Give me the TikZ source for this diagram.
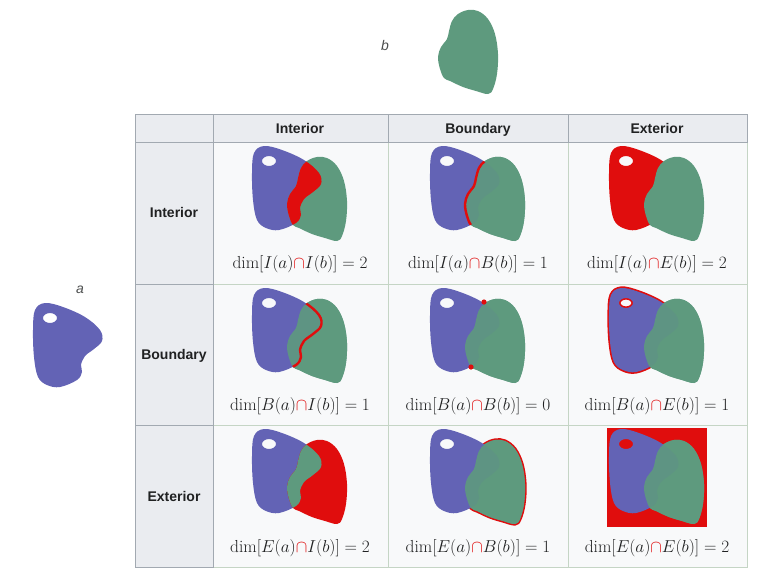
\documentclass[tikz,border=0pt]{standalone}
\usepackage{amsmath}
\usepackage{fontspec}
\usepackage{tikz}
\usetikzlibrary{positioning}
\newfontfamily\headfont{Liberation Sans}
\definecolor{areaA}{HTML}{6363B5}
\definecolor{areaB}{HTML}{5E9A7E}
\definecolor{hilite}{HTML}{E00D0D}
\definecolor{headbg}{HTML}{EAECF0}
\definecolor{cellbg}{HTML}{F8F9FA}
\definecolor{headline}{HTML}{A2A9B1}
\definecolor{cellline}{HTML}{C5D5C5}
\definecolor{ink}{HTML}{202122}
\tikzset{
  head/.style={font=\headfont\fontsize{14}{16}\selectfont\bfseries, text=ink, anchor=base},
  formula/.style={font=\fontsize{17.4}{20}\selectfont, anchor=base, text=ink},
  setname/.style={font=\headfont\fontsize{14}{16}\selectfont\itshape, text=ink!80},
  fillA/.style={fill=areaA, even odd rule},
  fillB/.style={fill=areaB, fill opacity=0.9},
  edgeline/.style={draw=hilite, line width=2.4pt},
  hcell/.style={draw=headline, line width=1pt},
  dcell/.style={draw=cellline, fill=cellbg, line width=1pt}
}
% outlines, relative to (cell centre, cell top)
\newcommand{\pathA}{plot[smooth cycle, tension=0.6] coordinates {(-36,4) (-18,8) (4,18) (19,31) (21,42) (13,50) (4,57) (0,66) (1,73) (-4,81) (-21,88) (-34,86) (-43,78) (-47,58) (-48,31) (-46,11)} (-31,19) ellipse [x radius=7pt, y radius=5pt]}
\newcommand{\pathB}{plot[smooth cycle, tension=0.6] coordinates {(7,19) (17,15) (27,16) (37,24) (44,39) (47,59) (46,79) (42,94) (37,99) (25,96) (12,92) (-1,86) (-7,83) (-11,74) (-13,62) (-10,52) (-4,44) (-2,36) (1,26)}}
% a under b, b slightly see-through where they overlap
\newcommand{\pairAB}{\fill[areaB] \pathB; \fill[fillA] \pathA; \fill[fillB] \pathB;}
\newcommand{\dimlabel}[3]{$\dim[#1(a){\color{hilite}\cap}#2(b)] = #3$}

\begin{document}
\begin{tikzpicture}[x=1pt,y=-1pt]
\useasboundingbox (0,0) rectangle (757,576);

% table
\foreach \x/\X in {213/388,388/568,568/747}
  \foreach \y/\Y in {142/284,284/425,425/567}
    \draw[dcell] (\x,\y) rectangle (\X,\Y);
\fill[headbg] (135,114) rectangle (747,142);
\fill[headbg] (135,142) rectangle (213,567);
\foreach \x/\X in {135/213,213/388,388/568,568/747}
  \draw[hcell] (\x,114) rectangle (\X,142);
\foreach \y/\Y in {142/284,284/425,425/567}
  \draw[hcell] (135,\y) rectangle (213,\Y);

\node[head] (cI) at (300,133) {Interior};
\node[head] (cB) at (478,133) {Boundary};
\node[head] (cE) at (657,133) {Exterior};
\node[head] (rI) at (174,217) {Interior};
\node[head] (rB) at (174,359) {Boundary};
\node[head] (rE) at (174,501) {Exterior};

% the two sets on their own
\begin{scope}[shift={(81,299)}]
  \fill[fillA] \pathA;
\end{scope}
\node[setname] (la) at (80,290) {a};
\begin{scope}[shift={(451,-5)}]
  \fill[areaB] \pathB;
\end{scope}
\node[setname] (lb) at (385,45) {b};

% row: interior of a
\begin{scope}[shift={(300,142)}]
  \fill[fillA] \pathA;
  \fill[areaB] \pathB;
  \begin{scope}
    \clip \pathA;
    \fill[hilite] \pathB;
  \end{scope}
\end{scope}
\begin{scope}[shift={(478,142)}]
  \pairAB
  \begin{scope}
    \clip \pathA;
    \draw[edgeline] \pathB;
  \end{scope}
\end{scope}
\begin{scope}[shift={(657,142)}]
  \fill[hilite, even odd rule] \pathA;
  \fill[areaB] \pathB;
\end{scope}

% row: boundary of a
\begin{scope}[shift={(300,284)}]
  \pairAB
  \begin{scope}
    \clip \pathB;
    \draw[edgeline] \pathA;
  \end{scope}
\end{scope}
\begin{scope}[shift={(478,284)}]
  \pairAB
  \fill[hilite] (6,18) circle [radius=2.6pt] (-7,83) circle [radius=2.6pt];
\end{scope}
\begin{scope}[shift={(657,284)}]
  \draw[edgeline, line width=3.2pt] \pathA;
  \pairAB
\end{scope}

% row: exterior of a
\begin{scope}[shift={(300,425)}]
  \fill[fillA] \pathA;
  \fill[hilite] \pathB;
  \begin{scope}
    \clip \pathA;
    \fill[areaB] \pathB;
  \end{scope}
\end{scope}
\begin{scope}[shift={(478,425)}]
  \draw[edgeline, line width=3.2pt] \pathB;
  \pairAB
\end{scope}
\begin{scope}[shift={(657,425)}]
  \fill[hilite] (-50,3) rectangle (50,102);
  \pairAB
\end{scope}

% labels
\node[formula] (fII) at (300,268) {\dimlabel{I}{I}{2}};
\node[formula] (fIB) at (478,268) {\dimlabel{I}{B}{1}};
\node[formula] (fIE) at (657,268) {\dimlabel{I}{E}{2}};
\node[formula] (fBI) at (300,410) {\dimlabel{B}{I}{1}};
\node[formula] (fBB) at (478,410) {\dimlabel{B}{B}{0}};
\node[formula] (fBE) at (657,410) {\dimlabel{B}{E}{1}};
\node[formula] (fEI) at (300,552) {\dimlabel{E}{I}{2}};
\node[formula] (fEB) at (478,552) {\dimlabel{E}{B}{1}};
\node[formula] (fEE) at (657,552) {\dimlabel{E}{E}{2}};
\end{tikzpicture}
\end{document}
